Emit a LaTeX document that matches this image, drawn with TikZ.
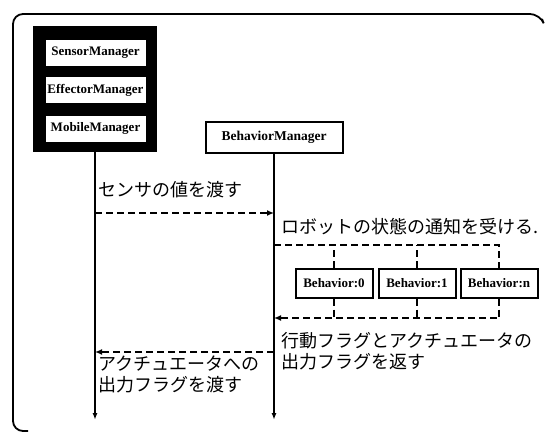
\documentclass[tikz,border=0pt]{standalone}
\usepackage{fontspec}
\setmainfont{Liberation Serif}
\newfontfamily\jp{Noto Sans CJK JP}
\usetikzlibrary{arrows.meta}
\tikzset{
  x=1pt,y=-1pt,
  mgrbox/.style={draw=black,fill=white,line width=0.6pt,minimum width=101pt,minimum height=27pt,inner sep=0pt,font=\fontsize{13}{13}\selectfont\bfseries},
  bmbox/.style={draw=black,fill=white,line width=2pt,minimum width=137pt,minimum height=31pt,inner sep=0pt,font=\fontsize{13.5}{13.5}\selectfont\bfseries},
  bhbox/.style={draw=black,fill=white,line width=2pt,minimum width=77pt,minimum height=29pt,inner sep=0pt,font=\fontsize{13}{13}\selectfont\bfseries},
  life/.style={line width=1.8pt,-{Latex[length=7pt,width=5pt]}},
  dsh/.style={line width=1.8pt,dash pattern=on 7pt off 4pt},
  dsharrow/.style={dsh,-{Latex[length=7pt,width=6pt]}},
  jlabel/.style={inner sep=0pt,anchor=west,font=\jp\fontsize{18}{18}\selectfont},
  jlabel2/.style={inner sep=0pt,anchor=north west,align=left,font=\jp\fontsize{18}{21}\selectfont},
}
\begin{document}
\begin{tikzpicture}
\useasboundingbox (0,0) rectangle (545,431);
% outer frame
\draw[line width=1.8pt,rounded corners=10pt] (542,19) -- (540,14) -- (13,14) -- (13,431) -- (28,431);
% manager stack
\node[fill=black,minimum width=124pt,minimum height=126pt,inner sep=0pt] (mgrs) at (95,89) {};
\node[mgrbox] (sm) at (95.5,53) {SensorManager};
\node[mgrbox] (em) at (95.5,90) {EffectorManager};
\node[mgrbox] (mm) at (95.5,128.5) {MobileManager};
% behavior manager
\node[bmbox] (bm) at (274,137) {BehaviorManager};
% lifelines
\coordinate (lend) at (95,420);
\coordinate (rend) at (274,420);
\draw[life] (mgrs.south) -- (lend);
\draw[life] (bm.south) -- (rend);
% first message
\coordinate (a1s) at (95,213);
\coordinate (a1e) at (274,213);
\node[jlabel] (t1) at (98,190) {センサの値を渡す};
\draw[dsharrow] (a1s) -- (a1e);
% notification text
\node[jlabel] (t2) at (281,227) {ロボットの状態の通知を受ける.};
% behaviors
\node[bhbox] (b0) at (334,283) {Behavior:0};
\node[bhbox] (b1) at (417,283) {Behavior:1};
\node[bhbox] (bn) at (499,283) {Behavior:n};
\coordinate (top) at (274,245);
\coordinate (bot) at (274,318);
\draw[dsh] (top) -| (bn.north);
\draw[dsh] (b0.north) -- (b0.north |- top);
\draw[dsh] (b1.north) -- (b1.north |- top);
\draw[dsharrow] (bn.south) |- (bot);
\draw[dsh] (b0.south) -- (b0.south |- bot);
\draw[dsh] (b1.south) -- (b1.south |- bot);
% return texts
\node[jlabel2] (t3) at (281,332) {行動フラグとアクチュエータの\\出力フラグを返す};
\coordinate (a2s) at (274,352);
\coordinate (a2e) at (95,352);
\draw[dsharrow] (a2s) -- (a2e);
\node[jlabel2] (t4) at (98,356) {アクチュエータへの\\出力フラグを渡す};
\end{tikzpicture}
\end{document}
